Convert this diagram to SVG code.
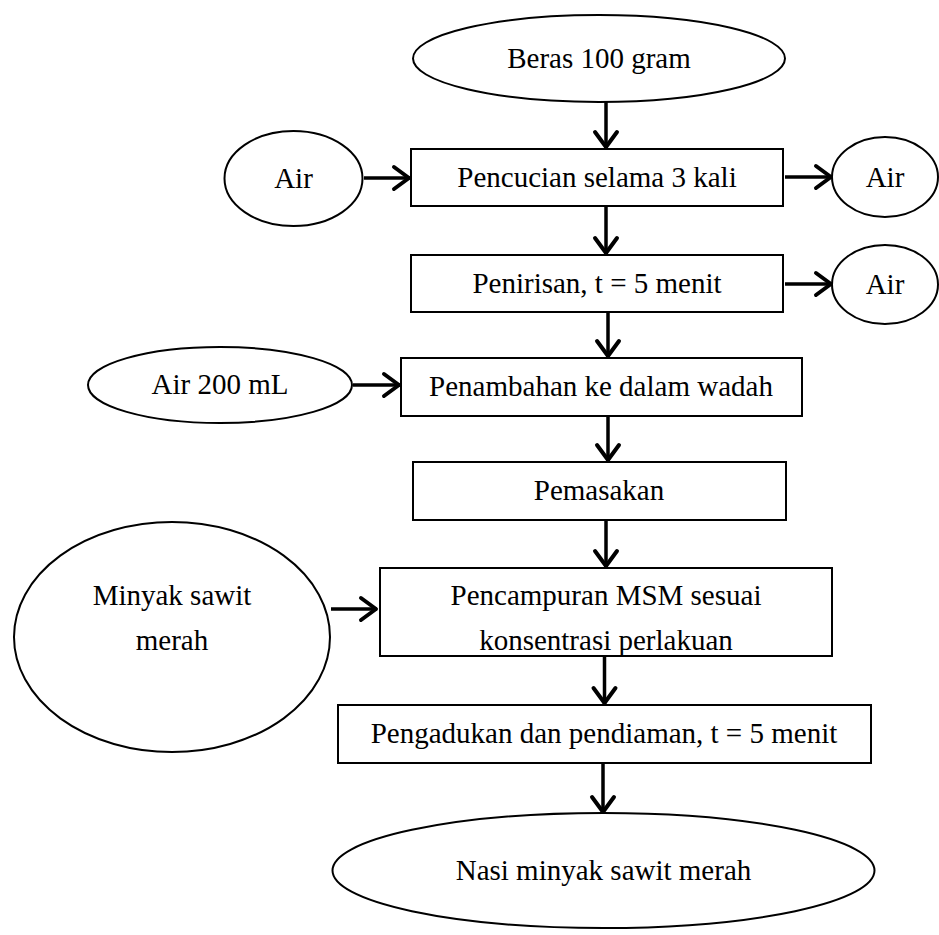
<svg xmlns="http://www.w3.org/2000/svg" width="939" height="935" viewBox="0 0 939 935">
<defs>
<style>
.shape{fill:#fff;stroke:#000;stroke-width:2}
.lbl{font-family:"Liberation Serif","Times New Roman",serif;font-size:29px;fill:#000;text-anchor:middle}
.conn{stroke:#000;stroke-width:3.5;fill:none}
</style>
<marker id="ah" markerUnits="userSpaceOnUse" markerWidth="30" markerHeight="30" viewBox="-20 -15 24 30" refX="0" refY="0" orient="auto">
<path d="M-16,-11 L-1,0 L-16,11" fill="none" stroke="#000" stroke-width="4" stroke-linecap="round" stroke-linejoin="round"/>
</marker>
</defs>
<rect width="939" height="935" fill="#fff"/>
<g id="n-beras"><ellipse class="shape" cx="599" cy="58.5" rx="186" ry="43.5"/><text class="lbl" x="599" y="68">Beras 100 gram</text></g>
<g id="n-air1"><ellipse class="shape" cx="293.5" cy="178.5" rx="69" ry="47.5"/><text class="lbl" x="293.5" y="188">Air</text></g>
<g id="n-cuci"><rect class="shape" x="411" y="149" width="372" height="57"/><text class="lbl" x="597" y="187">Pencucian selama 3 kali</text></g>
<g id="n-air2"><ellipse class="shape" cx="885" cy="177" rx="53" ry="40"/><text class="lbl" x="885" y="187">Air</text></g>
<g id="n-tiris"><rect class="shape" x="411" y="255" width="372" height="57"/><text class="lbl" x="597" y="293">Penirisan, t = 5 menit</text></g>
<g id="n-air3"><ellipse class="shape" cx="885" cy="284.5" rx="53" ry="39.5"/><text class="lbl" x="885" y="294">Air</text></g>
<g id="n-air200"><ellipse class="shape" cx="220" cy="385" rx="132" ry="38"/><text class="lbl" x="220" y="394">Air 200 mL</text></g>
<g id="n-tambah"><rect class="shape" x="401" y="358" width="401" height="58"/><text class="lbl" x="601" y="396">Penambahan ke dalam wadah</text></g>
<g id="n-masak"><rect class="shape" x="413" y="462" width="373" height="58"/><text class="lbl" x="599" y="500">Pemasakan</text></g>
<g id="n-msm"><ellipse class="shape" cx="172" cy="637" rx="158" ry="115"/><text class="lbl" x="172" y="605">Minyak sawit</text><text class="lbl" x="172" y="650">merah</text></g>
<g id="n-campur"><rect class="shape" x="380" y="568" width="452" height="88"/><text class="lbl" x="606" y="605">Pencampuran MSM sesuai</text><text class="lbl" x="606" y="650">konsentrasi perlakuan</text></g>
<g id="n-aduk"><rect class="shape" x="338" y="705" width="533" height="58"/><text class="lbl" x="604" y="743">Pengadukan dan pendiaman, t = 5 menit</text></g>
<g id="n-nasi"><ellipse class="shape" cx="603.5" cy="870.5" rx="271" ry="57.5"/><text class="lbl" x="603.5" y="880">Nasi minyak sawit merah</text></g>
<g id="connectors">
<line class="conn" marker-end="url(#ah)" x1="606" y1="102" x2="606" y2="148"/>
<line class="conn" marker-end="url(#ah)" x1="364" y1="178" x2="410" y2="178"/>
<line class="conn" marker-end="url(#ah)" x1="785" y1="177" x2="832" y2="177"/>
<line class="conn" marker-end="url(#ah)" x1="606" y1="206" x2="606" y2="254"/>
<line class="conn" marker-end="url(#ah)" x1="785" y1="284" x2="832" y2="284"/>
<line class="conn" marker-end="url(#ah)" x1="608" y1="312" x2="608" y2="357"/>
<line class="conn" marker-end="url(#ah)" x1="353" y1="385" x2="400" y2="385"/>
<line class="conn" marker-end="url(#ah)" x1="608" y1="416" x2="608" y2="461"/>
<line class="conn" marker-end="url(#ah)" x1="606" y1="520" x2="606" y2="567"/>
<line class="conn" marker-end="url(#ah)" x1="331" y1="609" x2="377" y2="609"/>
<line class="conn" marker-end="url(#ah)" x1="604.5" y1="656" x2="604.5" y2="704"/>
<line class="conn" marker-end="url(#ah)" x1="603" y1="763" x2="603" y2="813"/>
</g>
</svg>
